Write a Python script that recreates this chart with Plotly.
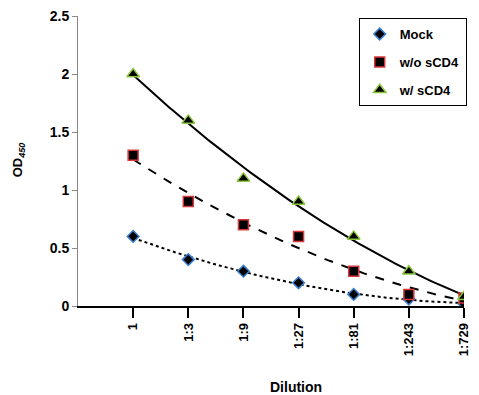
import numpy as np
import plotly.graph_objects as go

dilutions = ["1", "1:3", "1:9", "1:27", "1:81", "1:243", "1:729"]
mock = [0.6, 0.4, 0.3, 0.2, 0.1, 0.06, 0.02]
wo_scd4 = [1.3, 0.9, 0.7, 0.6, 0.3, 0.1, 0.07]
w_scd4 = [2.0, 1.6, 1.1, 0.9, 0.6, 0.3, 0.08]

idx = np.arange(len(dilutions))
xs = np.linspace(0, len(dilutions) - 1, 120)

fig = go.Figure()

series = [
    ("Mock", mock, "diamond", "#3a7fd0", "dot", 9),
    ("w/o sCD4", wo_scd4, "square", "#d9383a", "dash", 10),
    ("w/ sCD4", w_scd4, "triangle-up", "#8cc63f", "solid", 11),
]

# trendlines (2nd-order polynomial fits of each series)
for name, vals, sym, col, dash, size in series:
    coef = np.polyfit(idx, vals, 2)
    fig.add_trace(go.Scatter(x=xs, y=np.polyval(coef, xs), mode="lines",
                             line=dict(color="black", width=2, dash=dash),
                             showlegend=False, hoverinfo="skip"))

for name, vals, sym, col, dash, size in series:
    fig.add_trace(go.Scatter(x=idx, y=vals, mode="markers", name=name, legendgroup=name,
                             marker=dict(symbol=sym, size=size, color="black",
                                         line=dict(color=col, width=1.5))))

FONT = "Liberation Sans, Arial, sans-serif"
fig.update_layout(
    width=479, height=395, autosize=False,
    margin=dict(l=78, r=13, t=16, b=89),
    paper_bgcolor="white", plot_bgcolor="white",
    font=dict(family=FONT, size=13, color="black"),
    legend=dict(x=1.007, xanchor="right", y=0.993, yanchor="top",
                bordercolor="black", borderwidth=1, bgcolor="white",
                font=dict(size=13, family=FONT, weight="bold"),
                itemwidth=30, tracegroupgap=8, itemsizing="trace"),
    xaxis=dict(range=[-1, 6], tickmode="array", tickvals=list(idx), ticktext=dilutions,
               tickangle=-90, showgrid=False, zeroline=False, showline=True, automargin=False,
               linecolor="black", linewidth=1.5, ticks="outside", ticklen=10,
               tickwidth=1.5, tickcolor="black",
               tickfont=dict(size=13, weight="bold")),
    yaxis=dict(range=[0, 2.5], tickvals=[0, 0.5, 1, 1.5, 2, 2.5],
               ticktext=["0", "0.5", "1", "1.5", "2", "2.5"], automargin=False,
               showgrid=False, zeroline=False, showline=True,
               linecolor="#888888", linewidth=1, ticks="outside", ticklen=5,
               tickcolor="#888888", tickfont=dict(size=14, weight="bold")),
    annotations=[
        dict(text="<b>Dilution</b>", xref="paper", yref="paper", x=0.564, y=-0.279,
             xanchor="center", yanchor="middle", showarrow=False, font=dict(size=14)),
        dict(text="<b>OD<sub><i>450</i></sub></b>", xref="paper", yref="paper", x=-0.155, y=0.503,
             xanchor="center", yanchor="middle", textangle=-90, showarrow=False,
             font=dict(size=13)),
    ],
)

fig.write_html("out.html", config={"responsive": False, "displayModeBar": False},
               post_script="document.body.style.margin='0';document.body.style.overflow='hidden';")
